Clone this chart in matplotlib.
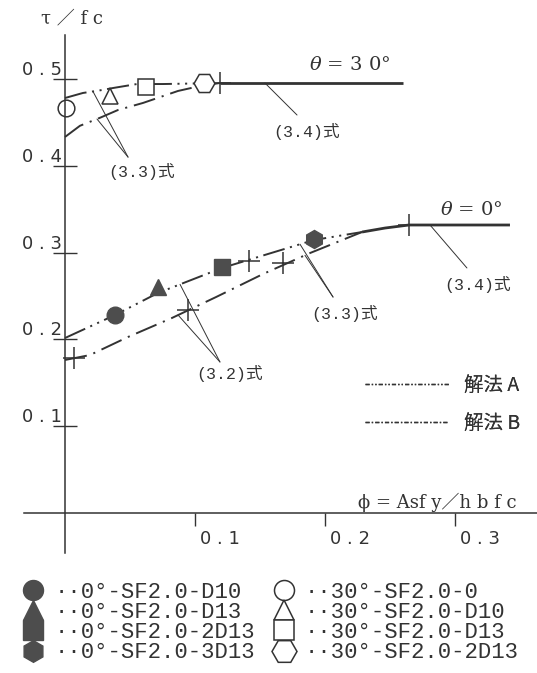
import matplotlib
matplotlib.use("Agg")
import numpy as np
import matplotlib.pyplot as plt
from matplotlib.lines import Line2D
from matplotlib.font_manager import FontProperties
from matplotlib.transforms import ScaledTranslation

plt.rcParams['lines.scale_dashes'] = False
plt.rcParams['mathtext.fontset'] = 'dejavuserif'

# experimental points, theta = 0 deg (filled) and 30 deg (open)
phi_exp_0 = [0.0385, 0.0713, 0.1208, 0.1915]
tau_exp_0 = [0.2281, 0.2607, 0.2834, 0.3157]
phi_exp_30 = [0.0010, 0.0346, 0.0623, 0.1070]
tau_exp_30 = [0.4666, 0.4804, 0.4904, 0.4950]
labels_0 = ['··0°-SF2.0-D10', '··0°-SF2.0-D13', '··0°-SF2.0-2D13', '··0°-SF2.0-3D13']
labels_30 = ['··30°-SF2.0-0', '··30°-SF2.0-D10', '··30°-SF2.0-D13', '··30°-SF2.0-2D13']

# analytical curves
phi_a_0 = [0.0, 0.0385, 0.0715, 0.1208, 0.1915, 0.2285]
tau_a_0 = [0.2016, 0.2281, 0.2535, 0.2823, 0.3145, 0.3237]
phi_b_0 = [0.0, 0.0192, 0.0485, 0.0823, 0.1162, 0.1523, 0.1885, 0.2285]
tau_b_0 = [0.1763, 0.1820, 0.2028, 0.2247, 0.2488, 0.2753, 0.2995, 0.3237]
phi_34_0 = [0.2285, 0.2462, 0.2646, 0.3423]
tau_34_0 = [0.3237, 0.3283, 0.3318, 0.3318]

phi_a_30 = [0.0, 0.0138, 0.0285, 0.0369, 0.0554, 0.0754, 0.0985, 0.1192]
tau_a_30 = [0.4781, 0.4839, 0.4873, 0.4896, 0.4942, 0.4942, 0.4948, 0.4954]
phi_b_30 = [0.0, 0.0115, 0.0269, 0.0408, 0.0600, 0.0869, 0.1038, 0.1192]
tau_b_30 = [0.4332, 0.4461, 0.4553, 0.4643, 0.4724, 0.4862, 0.4919, 0.4954]
phi_34_30 = [0.1192, 0.2600]
tau_34_30 = [0.4954, 0.4954]

# transition points (+)
phi_plus = [0.0069, 0.0946, 0.1415, 0.1677, 0.2646, 0.1192]
tau_plus = [0.1786, 0.2339, 0.2903, 0.2880, 0.3318, 0.4954]

x_ticks = [0.1, 0.2, 0.3]
y_ticks = [0.1, 0.2, 0.3, 0.4, 0.5]

INK = '#333333'
FILL = '#4d4d4d'
style_a = (0, (16, 4, 1.5, 4, 1.5, 4))
style_b = (0, (16, 5, 1.5, 5))
mono_cjk = ['Liberation Mono', 'Noto Sans CJK JP']
serif_cjk = ['DejaVu Serif', 'Noto Sans CJK JP']

fig = plt.figure(figsize=(5.37, 6.73), dpi=100)
ax = fig.add_axes([0, 0, 1, 1])
ax.set_xlim(-0.05, 0.3631)
ax.set_ylim(-0.1843, 0.591)

for s in ['top', 'right']:
    ax.spines[s].set_visible(False)
ax.spines['left'].set_position(('data', 0))
ax.spines['bottom'].set_position(('data', 0))
ax.spines['left'].set_bounds(-0.046, 0.551)
ax.spines['bottom'].set_bounds(-0.0315, 0.3631)
for s in ['left', 'bottom']:
    ax.spines[s].set_color(INK)
    ax.spines[s].set_linewidth(1.1)

ax.set_xticks(x_ticks, ['0 . %d' % round(v * 10) for v in x_ticks])
ax.set_yticks(y_ticks, ['0 . %d' % round(v * 10) for v in y_ticks])
ax.tick_params(axis='y', direction='inout', length=17, width=1, pad=-6,
               labelsize=13, colors=INK)
ax.tick_params(axis='x', direction='out', length=9, width=1, pad=3,
               labelsize=13, colors=INK)
for lab in ax.get_yticklabels():
    lab.set_va('bottom')
for lab in ax.get_xticklabels():
    lab.set_ha('left')
    lab.set_transform(lab.get_transform() + ScaledTranslation(0.05, 0, fig.dpi_scale_trans))

# curves
for px, ty in [(phi_a_0, tau_a_0), (phi_a_30, tau_a_30)]:
    ax.plot(px, ty, color=INK, lw=1.4, linestyle=style_a)
for px, ty in [(phi_b_0, tau_b_0), (phi_b_30, tau_b_30)]:
    ax.plot(px, ty, color=INK, lw=1.4, linestyle=style_b)
for px, ty in [(phi_34_0, tau_34_0), (phi_34_30, tau_34_30)]:
    ax.plot(px, ty, color=INK, lw=2.0, solid_capstyle='butt')
ax.plot(phi_plus, tau_plus, linestyle='none', marker='+', markersize=16,
        mew=1.1, color=INK)

# experimental markers
handles = []
for px, ty, m, lab in zip(phi_exp_0, tau_exp_0, ['o', '^', 's', 'h'], labels_0):
    h, = ax.plot(px, ty, linestyle='none', marker=m, markersize=13 if m == 'h' else 12,
                 mfc=FILL, mec=FILL, label=lab)
    handles.append(h)
for px, ty, m, lab in zip(phi_exp_30, tau_exp_30, ['o', '^', 's', 'H'], labels_30):
    h, = ax.plot(px, ty, linestyle='none', marker=m, markersize=15 if m == 'H' else 12,
                 mfc='white', mec=INK, mew=1.1, label=lab)
    handles.append(h)


def pointer(text, text_xy, apex, targets):
    for px, curve_phi, curve_tau in targets:
        ax.annotate('', xy=(px, np.interp(px, curve_phi, curve_tau)), xytext=apex,
                    arrowprops=dict(arrowstyle='-', lw=0.7, color=INK,
                                    shrinkA=0, shrinkB=0))
    ax.text(text_xy[0], text_xy[1], text, family=mono_cjk, fontsize=12,
            color=INK, ha='center', va='center')


pointer('(3.3)式', (0.0592, 0.393), (0.0485, 0.410),
        [(0.0215, phi_a_30, tau_a_30), (0.0246, phi_b_30, tau_b_30)])
pointer('(3.4)式', (0.1862, 0.439), (0.1785, 0.4585),
        [(0.1538, phi_34_30, tau_34_30)])
pointer('(3.3)式', (0.2154, 0.2304), (0.2062, 0.2488),
        [(0.1808, phi_a_0, tau_a_0), (0.1846, phi_b_0, tau_b_0)])
pointer('(3.4)式', (0.3177, 0.2627), (0.3092, 0.2823),
        [(0.2808, phi_34_0, tau_34_0)])
pointer('(3.2)式', (0.1269, 0.1613), (0.1192, 0.174),
        [(0.0885, phi_a_0, tau_a_0), (0.0870, phi_b_0, tau_b_0)])

ax.text(0.219, 0.516, r'$\theta$ = 3 0°', family='DejaVu Serif', fontsize=14,
        color=INK, ha='center', va='center')
ax.text(0.313, 0.349, r'$\theta$ = 0°', family='DejaVu Serif', fontsize=14,
        color=INK, ha='center', va='center')
ax.text(0.0054, 0.570, 'τ ／ f c', family=serif_cjk, fontsize=13,
        color=INK, ha='center', va='center')
ax.text(0.3477, 0.0127, 'ϕ = Asf y／h b f c', family=serif_cjk, fontsize=13,
        color=INK, ha='right', va='center')

# legend for the two solution methods
line_handles = [Line2D([], [], color=INK, lw=1, linestyle=(0, (3, 1.5, 1, 1.5, 1, 1.5))),
                Line2D([], [], color=INK, lw=1, linestyle=(0, (3, 1.5, 1, 1.5)))]
leg_lines = ax.legend(line_handles, ['解法 A', '解法 B'], loc='upper left',
                      bbox_to_anchor=(365 / 537, 1 - 375 / 673),
                      bbox_transform=fig.transFigure, frameon=False,
                      handlelength=4.3, handletextpad=0.8, labelspacing=0.85,
                      borderpad=0, borderaxespad=0, labelcolor=INK,
                      prop=FontProperties(family='Noto Sans CJK JP', size=14))
ax.add_artist(leg_lines)

# legend for specimens
fig.legend(handles=handles, loc='upper left', ncol=2,
           bbox_to_anchor=(22 / 537, 1 - 582 / 673), frameon=False,
           handlelength=1.0, handletextpad=0.45, columnspacing=0.8,
           labelspacing=-0.04, borderpad=0, borderaxespad=0, markerscale=1.2,
           labelcolor=INK, prop=FontProperties(family='Liberation Mono', size=16))

fig.savefig('out.png', dpi=100)
